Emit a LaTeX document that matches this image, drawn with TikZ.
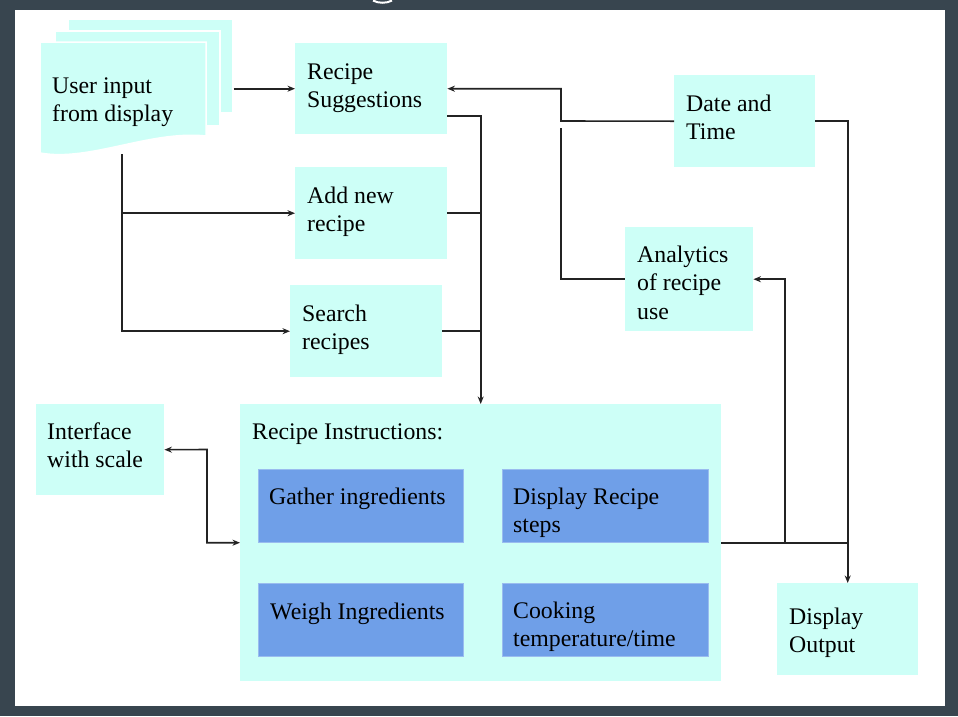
\documentclass[tikz,border=0pt]{standalone}
\usepackage{fontspec}
\setmainfont{Liberation Serif}
\usetikzlibrary{arrows.meta}
\definecolor{bgdark}{RGB}{56,69,79}
\definecolor{cyanbox}{RGB}{205,255,247}
\definecolor{bluebox}{RGB}{111,159,232}
\definecolor{linec}{RGB}{35,35,35}
\tikzset{
  box/.style={fill=cyanbox, draw=none, inner sep=0pt, anchor=north west},
  bbox/.style={fill=bluebox, draw=bluebox!70!white, line width=0.6pt, inner sep=0pt, anchor=north west},
  sheet/.style={fill=cyanbox, draw=white, line width=1.5pt},
  txt/.style={anchor=base west, inner sep=0pt, align=left, font=\fontsize{23.8}{28.5}\selectfont},
  conn/.style={draw=linec, line width=1.6pt},
  arr/.style={conn, -{Stealth[length=7.5pt,width=6pt]}},
  arrb/.style={conn, {Stealth[length=7.5pt,width=6pt]}-{Stealth[length=7.5pt,width=6pt]}}
}
\begin{document}
\begin{tikzpicture}[x=1pt,y=-1pt]
\useasboundingbox (0,0) rectangle (958,716);
\fill[bgdark] (0,0) rectangle (958,716);
\fill[white] (15,10) rectangle (945,706);
\draw[white, line width=2pt] (373,0.5) .. controls (378,3.5) and (387,3.5) .. (392,0.5);

% document stack (text node anchored at the baseline of its last line)
\node[box, sheet, minimum width=165pt, minimum height=94pt] (doc3) at (67,18) {};
\node[box, sheet, minimum width=165pt, minimum height=95pt] (doc2) at (54,30) {};
\path[sheet] (40,42) -- (206,42) -- (206,136) .. controls (150,130) and (90,162) .. (40,153) -- cycle;
\coordinate (docbot) at (122,154);
\node[txt] (docT) at (52,121.5) {User input\\from display};

% left column boxes
\node[box, minimum width=152pt, minimum height=91pt] (sug) at (295,43) {};
\node[txt] (sugT) at ([xshift=12pt,yshift=-64.5pt]sug.north west) {Recipe\\Suggestions};
\node[box, minimum width=152pt, minimum height=92pt] (add) at (295,167) {};
\node[txt] (addT) at ([xshift=12pt,yshift=-64.5pt]add.north west) {Add new\\recipe};
\node[box, minimum width=152pt, minimum height=92pt] (search) at (290,285) {};
\node[txt] (searchT) at ([xshift=12pt,yshift=-64.5pt]search.north west) {Search\\recipes};

% right boxes
\node[box, minimum width=141pt, minimum height=92pt] (date) at (674,75) {};
\node[txt] (dateT) at ([xshift=12pt,yshift=-64.5pt]date.north west) {Date and\\Time};
\node[box, minimum width=128pt, minimum height=104pt] (ana) at (625,227) {};
\node[txt] (anaT) at ([xshift=12pt,yshift=-92pt]ana.north west) {Analytics\\of recipe\\use};
\node[box, minimum width=128pt, minimum height=91pt] (inter) at (36,404) {};
\node[txt] (interT) at ([xshift=11pt,yshift=-63.5pt]inter.north west) {Interface\\with scale};
\node[box, minimum width=141pt, minimum height=92pt] (disp) at (777,583) {};
\node[txt] (dispT) at ([xshift=12pt,yshift=-69.5pt]disp.north west) {Display\\Output};

% recipe instructions
\node[box, minimum width=481pt, minimum height=277pt] (ins) at (240,404) {};
\node[txt] (insT) at ([xshift=12pt,yshift=-35pt]ins.north west) {Recipe Instructions:};
\node[bbox, minimum width=205pt, minimum height=73pt] (gather) at (258,469) {};
\node[txt] (gatherT) at ([xshift=11pt,yshift=-35pt]gather.north west) {Gather ingredients};
\node[bbox, minimum width=206pt, minimum height=73pt] (steps) at (502,469) {};
\node[txt] (stepsT) at ([xshift=11pt,yshift=-63.5pt]steps.north west) {Display Recipe\\steps};
\node[bbox, minimum width=205pt, minimum height=73pt] (weigh) at (258,583) {};
\node[txt] (weighT) at ([xshift=12pt,yshift=-36pt]weigh.north west) {Weigh Ingredients};
\node[bbox, minimum width=206pt, minimum height=73pt] (cook) at (502,583) {};
\node[txt] (cookT) at ([xshift=11pt,yshift=-63.5pt]cook.north west) {Cooking\\temperature/time};

% connectors
\draw[arr] (doc3.east |- sug.west) -- (sug.west);
\draw[arr] (docbot) |- (search.west);
\draw[arr] (docbot |- add.west) -- (add.west);

\draw[arr] ([yshift=-27.5pt]sug.east) -| (ins.north);
\draw[conn] (add.east) -- (add.east -| ins.north);
\draw[conn] (search.east) -- (search.east -| ins.north);

\coordinate (j1) at (561,121);
\draw[arr] (date.west) -- (j1) |- (sug.east);
\coordinate (j2) at (561,128);
\draw[conn] (j2) |- (ana.west);

\draw[arr] (date.east) -| (disp.north);
\draw[conn] (ins.east) -- (ins.east -| disp.north);
\coordinate (j3) at (785,542.5);
\draw[arr] (j3) |- (ana.east);

\coordinate (j4) at (207,449.5);
\draw[arrb] (inter.east) -- (j4) |- (ins.west);
\end{tikzpicture}
\end{document}
